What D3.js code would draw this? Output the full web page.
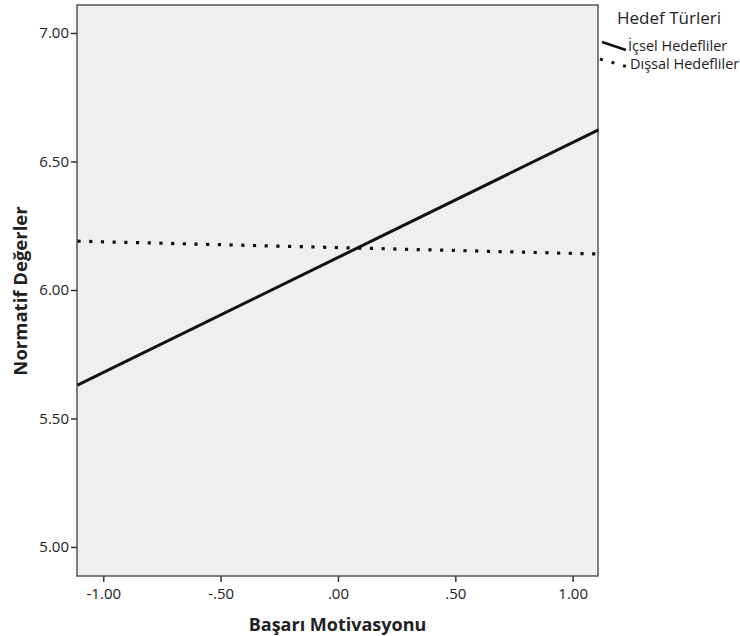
<!DOCTYPE html>
<html>
<head>
<meta charset="utf-8">
<script src="https://cdn.jsdelivr.net/npm/d3@7"></script>
<style>
  body { margin: 0; background: #fff; }
  text { font-family: "Open Sans", "DejaVu Sans", sans-serif; fill: #222; }
</style>
</head>
<body>
<div id="chart"></div>
<script>
// chart values
const groups = ["İçsel Hedefliler", "Dışsal Hedefliler"];
const xEnds = [-1.11, 1.11];
const icselY = [5.63, 6.623];
const dissalY = [6.19, 6.14];
const yTicks = [5.0, 5.5, 6.0, 6.5, 7.0];
const xTicks = [-1.0, -0.5, 0.0, 0.5, 1.0];

const svgWidth = 740;
const svgHeight = 636;

const chartMargin = { top: 5, right: 142, bottom: 60, left: 77 };
const chartWidth = svgWidth - chartMargin.left - chartMargin.right;
const chartHeight = svgHeight - chartMargin.top - chartMargin.bottom;

const svg = d3.select("#chart")
  .append("svg")
  .attr("width", svgWidth)
  .attr("height", svgHeight);

const chartGroup = svg.append("g")
  .attr("transform", `translate(${chartMargin.left}, ${chartMargin.top})`);

const xScale = d3.scaleLinear().domain([-1.112, 1.108]).range([0, chartWidth]);
const yScale = d3.scaleLinear().domain([4.887, 7.109]).range([chartHeight, 0]);

// plot background
chartGroup.append("rect")
  .attr("width", chartWidth)
  .attr("height", chartHeight)
  .attr("fill", "#efefef")
  .attr("stroke", "#555")
  .attr("stroke-width", 1.5);

// SPSS style labels: -1.00, -.50, .00
const fmt = d => {
  const s = Math.abs(d).toFixed(2).replace(/^0\./, ".");
  return (d < 0 ? "-" : "") + s;
};

const bottomAxis = d3.axisBottom(xScale).tickValues(xTicks).tickFormat(fmt).tickSizeOuter(0).tickSize(6).tickPadding(6);
const leftAxis = d3.axisLeft(yScale).tickValues(yTicks).tickFormat(d => d.toFixed(2)).tickSizeOuter(0).tickSize(6).tickPadding(2);

const xAxisG = chartGroup.append("g")
  .attr("transform", `translate(0, ${chartHeight})`)
  .call(bottomAxis);
const yAxisG = chartGroup.append("g").call(leftAxis);

[xAxisG, yAxisG].forEach(g => {
  g.select(".domain").remove();
  g.selectAll(".tick line").attr("stroke", "#333").attr("stroke-width", 1.5);
  g.selectAll(".tick text").style("font-size", "15px").attr("fill", "#333")
    .style("font-family", "'Open Sans', sans-serif");
});

// lines
const line = d3.line()
  .x(d => xScale(d[0]))
  .y(d => yScale(d[1]));

chartGroup.append("path")
  .datum(d3.zip(xEnds, icselY))
  .attr("d", line)
  .attr("fill", "none")
  .attr("stroke", "#111")
  .attr("stroke-width", 3);

chartGroup.append("path")
  .datum(d3.zip(xEnds, dissalY))
  .attr("d", line)
  .attr("fill", "none")
  .attr("stroke", "#111")
  .attr("stroke-width", 3.2)
  .attr("stroke-dasharray", "3.2,8.5");

// axis titles
svg.append("text")
  .attr("x", chartMargin.left + chartWidth / 2)
  .attr("y", 631)
  .attr("text-anchor", "middle")
  .style("font-size", "18px")
  .style("font-weight", "bold")
  .text("Başarı Motivasyonu");

svg.append("text")
  .attr("transform", `translate(27, 291) rotate(-90)`)
  .attr("text-anchor", "middle")
  .style("font-size", "18.5px")
  .style("font-weight", "bold")
  .text("Normatif Değerler");

// legend
const legend = svg.append("g");
legend.append("text")
  .attr("x", 669)
  .attr("y", 24)
  .attr("text-anchor", "middle")
  .style("font-size", "17px")
  .text("Hedef Türleri");

legend.append("line")
  .attr("x1", 602).attr("y1", 42)
  .attr("x2", 626).attr("y2", 50)
  .attr("stroke", "#111")
  .attr("stroke-width", 2.5);
legend.append("line")
  .attr("x1", 600).attr("y1", 59)
  .attr("x2", 628).attr("y2", 67)
  .attr("stroke", "#111")
  .attr("stroke-width", 3)
  .attr("stroke-dasharray", "3,9");

legend.append("text")
  .attr("x", 628).attr("y", 51)
  .style("font-size", "14.5px")
  .text(groups[0]);
legend.append("text")
  .attr("x", 630).attr("y", 69)
  .style("font-size", "14.5px")
  .text(groups[1]);
</script>
</body>
</html>
